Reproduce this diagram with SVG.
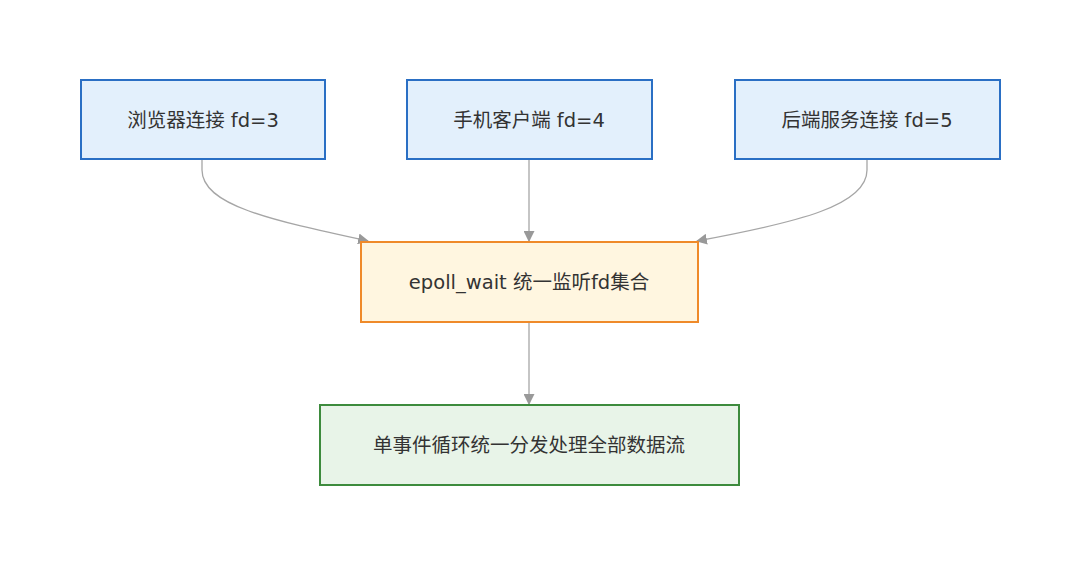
<svg xmlns="http://www.w3.org/2000/svg" width="1080" height="565" viewBox="0 0 1080 565">
<style>
.t{font-family:"DejaVu Sans","Noto Sans CJK SC",sans-serif;font-size:19.5px;fill:#333;text-anchor:middle;dominant-baseline:central}
.blue{fill:#e3f0fc;stroke:#2a6fc4;stroke-width:2}
.orange{fill:#fff6e0;stroke:#ef8a2a;stroke-width:2}
.green{fill:#e8f4e8;stroke:#3d8b3d;stroke-width:2}
.e{fill:none;stroke:#a6a6a6;stroke-width:1.3}
</style>
<defs>
<marker id="ah" viewBox="0 0 10 10" refX="9" refY="5" markerWidth="11" markerHeight="11" markerUnits="userSpaceOnUse" orient="auto">
<path d="M0,0 L10,5 L0,10 z" fill="#999"/>
</marker>
</defs>
<rect width="1080" height="565" fill="#fff"/>
<g id="edges">
<path class="e" d="M202,160 L202,170 C202,205 270,220 368,241" marker-end="url(#ah)"/>
<path class="e" d="M529,160 L529,241" marker-end="url(#ah)"/>
<path class="e" d="M867,160 L867,170 C867,205 800,222 697,241" marker-end="url(#ah)"/>
<path class="e" d="M529,322 L529,404" marker-end="url(#ah)"/>
</g>
<g id="n1"><rect class="blue" x="81" y="80" width="244" height="79"/><text class="t" x="203" y="120">浏览器连接 fd=3</text></g>
<g id="n2"><rect class="blue" x="407" y="80" width="245" height="79"/><text class="t" x="529" y="120">手机客户端 fd=4</text></g>
<g id="n3"><rect class="blue" x="735" y="80" width="265" height="79"/><text class="t" x="867" y="120">后端服务连接 fd=5</text></g>
<g id="n4"><rect class="orange" x="361" y="242" width="337" height="80"/><text class="t" x="529" y="282">epoll_wait 统一监听fd集合</text></g>
<g id="n5"><rect class="green" x="320" y="405" width="419" height="80"/><text class="t" x="529" y="445">单事件循环统一分发处理全部数据流</text></g>
</svg>
